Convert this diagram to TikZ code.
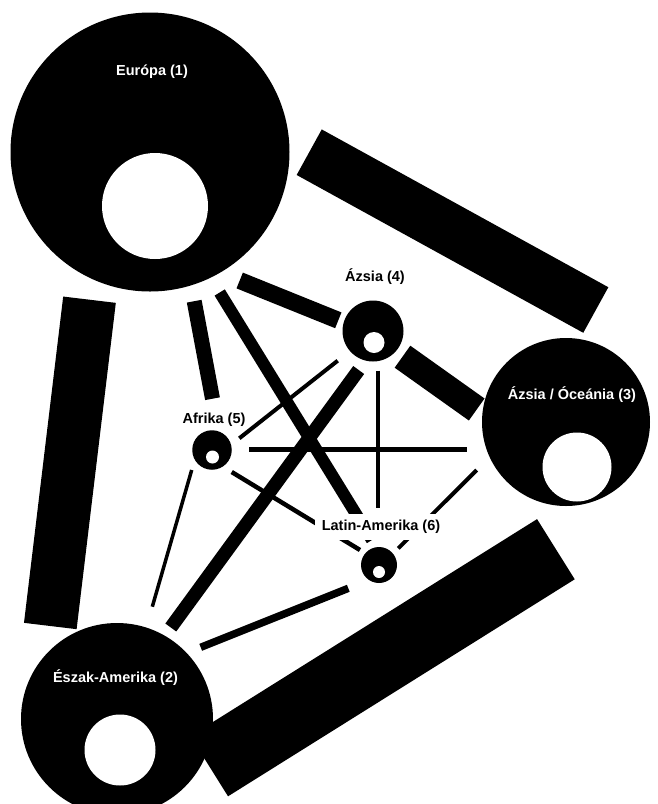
\documentclass[tikz,border=0pt]{standalone}
\usepackage{fontspec}
\setmainfont{Liberation Sans}
\usetikzlibrary{positioning}

\begin{document}
\begin{tikzpicture}[
  x=1pt, y=-1pt,
  hub/.style={circle, fill=black, inner sep=0pt},
  hole/.style={circle, fill=white, inner sep=0pt},
  lbl/.style={anchor=base, font=\bfseries\fontsize{14.5}{17}\selectfont},
  lblw/.style={lbl, text=white},
  lblbox/.style={lbl, fill=white, inner xsep=7pt, inner ysep=6pt},
  bar/.style={draw=black, line cap=butt}
  ]
\useasboundingbox (0,0) rectangle (658,804);

% Bar ends
\coordinate (eu-ao1) at (309.2,152.2);
\coordinate (eu-ao2) at (595.8,310);
\coordinate (eu-na1) at (89.5,299.7);
\coordinate (eu-na2) at (50.3,626);
\coordinate (na-ao1) at (209.2,766.2);
\coordinate (na-ao2) at (555.9,549.2);
\coordinate (eu-as1) at (239.7,280.5);
\coordinate (eu-as2) at (338.3,320.3);
\coordinate (eu-af1) at (194.2,301.2);
\coordinate (eu-af2) at (212.5,398.7);
\coordinate (eu-la1) at (219.7,292.5);
\coordinate (eu-la2) at (372,540);
\coordinate (as-ao1) at (402.5,356.7);
\coordinate (as-ao2) at (476.7,409.5);
\coordinate (as-na1) at (358.7,370);
\coordinate (as-na2) at (170.8,627.5);
\coordinate (as-af1) at (337.7,360.7);
\coordinate (as-af2) at (239.3,438.3);
\coordinate (as-la1) at (377.7,370.7);
\coordinate (as-la2) at (377.7,508.3);
\coordinate (af-ao1) at (249.3,449.3);
\coordinate (af-ao2) at (466.7,449.3);
\coordinate (af-la1) at (231.7,472);
\coordinate (af-la2) at (360,550);
\coordinate (af-na1) at (191.7,470);
\coordinate (af-na2) at (152.3,606.7);
\coordinate (la-na1) at (348.3,588.3);
\coordinate (la-na2) at (200.7,647.3);
\coordinate (la-ao1) at (476.7,470);
\coordinate (la-ao2) at (398.3,548.3);

% Bars
\draw[bar, line width=52pt] (eu-ao1) -- (eu-ao2);
\draw[bar, line width=53pt] (eu-na1) -- (eu-na2);
\draw[bar, line width=71pt] (na-ao1) -- (na-ao2);
\draw[bar, line width=17pt] (eu-as1) -- (eu-as2);
\draw[bar, line width=15pt] (eu-af1) -- (eu-af2);
\draw[bar, line width=12pt] (eu-la1) -- (eu-la2);
\draw[bar, line width=27pt] (as-ao1) -- (as-ao2);
\draw[bar, line width=13.5pt] (as-na1) -- (as-na2);
\draw[bar, line width=4pt] (as-af1) -- (as-af2);
\draw[bar, line width=4pt] (as-la1) -- (as-la2);
\draw[bar, line width=4.7pt] (af-ao1) -- (af-ao2);
\draw[bar, line width=4.5pt] (af-la1) -- (af-la2);
\draw[bar, line width=3.5pt] (af-na1) -- (af-na2);
\draw[bar, line width=7.5pt] (la-na1) -- (la-na2);
\draw[bar, line width=4pt] (la-ao1) -- (la-ao2);

% Nodes
\node[hub, minimum size=279pt] (eu) at (150,152) {};
\node[hole, minimum size=106pt] (euh) at (155,206) {};
\node[hub, minimum size=192pt] (na) at (117,719) {};
\node[hole, minimum size=71pt] (nah) at (120,750) {};
\node[hub, minimum size=168pt] (ao) at (566,422) {};
\node[hole, minimum size=69pt] (aoh) at (577,467) {};
\node[hub, minimum size=61pt] (as) at (373,331) {};
\node[hole, minimum size=21pt] (ash) at (374,342.5) {};
\node[hub, minimum size=39.5pt] (af) at (212,450) {};
\node[hole, minimum size=13pt] (afh) at (212.5,457) {};
\node[hub, minimum size=36pt] (la) at (379,565) {};
\node[hole, minimum size=12pt] (lah) at (379,572) {};

% Labels
\node[lblw] (eu-l) at (152,75) {Európa (1)};
\node[lblw] (na-l) at (115.5,682.7) {Észak-Amerika (2)};
\node[lblw] (ao-l) at (572,399) {Ázsia / Óceánia (3)};
\node[lbl] (as-l) at (375,281.7) {Ázsia (4)};
\node[lbl] (af-l) at (214,423.3) {Afrika (5)};
\node[lblbox] (la-l) at (381,530.7) {Latin-Amerika (6)};

\end{tikzpicture}
\end{document}
